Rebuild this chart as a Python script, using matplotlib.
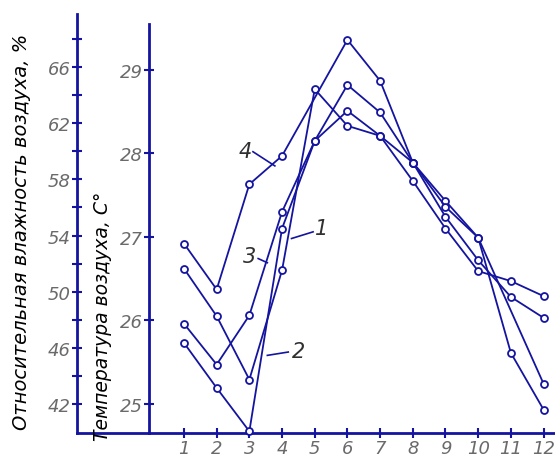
import matplotlib
matplotlib.use('Agg')
import matplotlib.pyplot as plt
from matplotlib import font_manager

# months
months = [1, 2, 3, 4, 5, 6, 7, 8, 9, 10, 11, 12]

# series 1
x1 = months
t1 = [26.62, 26.05, 25.29, 26.60, 28.77, 28.33, 28.21, 27.89, 27.43, 26.99, 25.61, 24.93]
# series 2 (no mark at 11)
x2 = [1, 2, 3, 4, 5, 6, 7, 8, 9, 10, 12]
t2 = [25.73, 25.19, 24.67, 27.10, 28.15, 28.82, 28.49, 27.89, 27.36, 26.99, 25.24]
# series 3
x3 = months
t3 = [25.96, 25.47, 26.06, 27.30, 28.15, 28.51, 28.21, 27.67, 27.10, 26.59, 26.47, 26.29]
# series 4 (no mark at 5)
x4 = [1, 2, 3, 4, 6, 7, 8, 9, 10, 11, 12]
t4 = [26.92, 26.37, 27.63, 27.97, 29.36, 28.87, 27.89, 27.24, 26.72, 26.28, 26.03]

temp_ticks = [25, 26, 27, 28, 29]
hum_ticks = [42, 44, 46, 48, 50, 52, 54, 56, 58, 60, 62, 64, 66, 68]
hum_labels = ['42', '', '46', '', '50', '', '54', '', '58', '', '62', '', '66', '']

blue = '#1414a0'
grey = '#6a6a6a'

names = [f.name for f in font_manager.fontManager.ttflist]
fam = 'Liberation Sans Narrow' if 'Liberation Sans Narrow' in names else 'DejaVu Sans'
plt.rcParams['font.family'] = [fam, 'DejaVu Sans']

fig = plt.figure(figsize=(5.55, 4.6), dpi=100)
W, H = 555.0, 460.0

ax = fig.add_axes([149 / W, 26 / H, (555 - 149) / W, (434 - 25) / H])
ax2 = fig.add_axes([77 / W, 26 / H, (149 - 77) / W, (434 - 15) / H])

for xs, ts in [(x1, t1), (x2, t2), (x3, t3), (x4, t4)]:
    ax.plot(xs, ts, color=blue, lw=1.3, marker='o', ms=5, mfc='white',
            mec=blue, mew=1.3, clip_on=False, zorder=3)

ax.set_xlim(-0.07, 12.35)
ax.set_ylim(24.65, 29.55)
ax.set_xticks(months)
ax.set_yticks(temp_ticks)
for s in ['top', 'right']:
    ax.spines[s].set_visible(False)
for s in ['left', 'bottom']:
    ax.spines[s].set_color(blue)
    ax.spines[s].set_linewidth(2)
ax.tick_params(direction='inout', length=7, width=1.5, color=blue,
               labelcolor=grey, labelsize=13)
for lab in ax.get_xticklabels() + ax.get_yticklabels():
    lab.set_fontstyle('italic')
ax.tick_params(axis='x', pad=1)
ax.tick_params(axis='y', pad=1)

ax2.set_ylim(39.93, 69.78)
ax2.set_yticks(hum_ticks)
ax2.set_yticklabels(hum_labels)
ax2.set_xticks([])
ax2.patch.set_alpha(0)
for s in ['top', 'right']:
    ax2.spines[s].set_visible(False)
for s in ['left', 'bottom']:
    ax2.spines[s].set_color(blue)
    ax2.spines[s].set_linewidth(2)
ax2.tick_params(axis='y', direction='inout', length=7, width=1.5, color=blue,
                labelcolor=grey, labelsize=13, pad=1)
for lab in ax2.get_yticklabels():
    lab.set_fontstyle('italic')

fig.text(22 / W, 1 - 232 / H, 'Относительная влажность воздуха, %', rotation=90,
         ha='center', va='center', fontsize=14, style='italic', color='black')
fig.text(102 / W, 1 - 316 / H, 'Температура воздуха, С°', rotation=90,
         ha='center', va='center', fontsize=13.5, style='italic', color='black')

# curve labels with leaders
labels = [('4', 2.87, 28.03, 3.11, 28.02, 3.78, 27.85),
          ('1', 5.22, 27.10, 4.95, 27.06, 4.29, 26.98),
          ('3', 3.02, 26.77, 3.27, 26.74, 3.55, 26.69),
          ('2', 4.49, 25.63, 4.19, 25.62, 3.55, 25.58)]
for txt, tx, ty, ax0, ay0, ax1, ay1 in labels:
    ax.text(tx, ty, txt, ha='center', va='center', fontsize=15, style='italic', color='#303030')
    ax.plot([ax0, ax1], [ay0, ay1], color=blue, lw=1.2)

fig.savefig('out.png', dpi=100)
